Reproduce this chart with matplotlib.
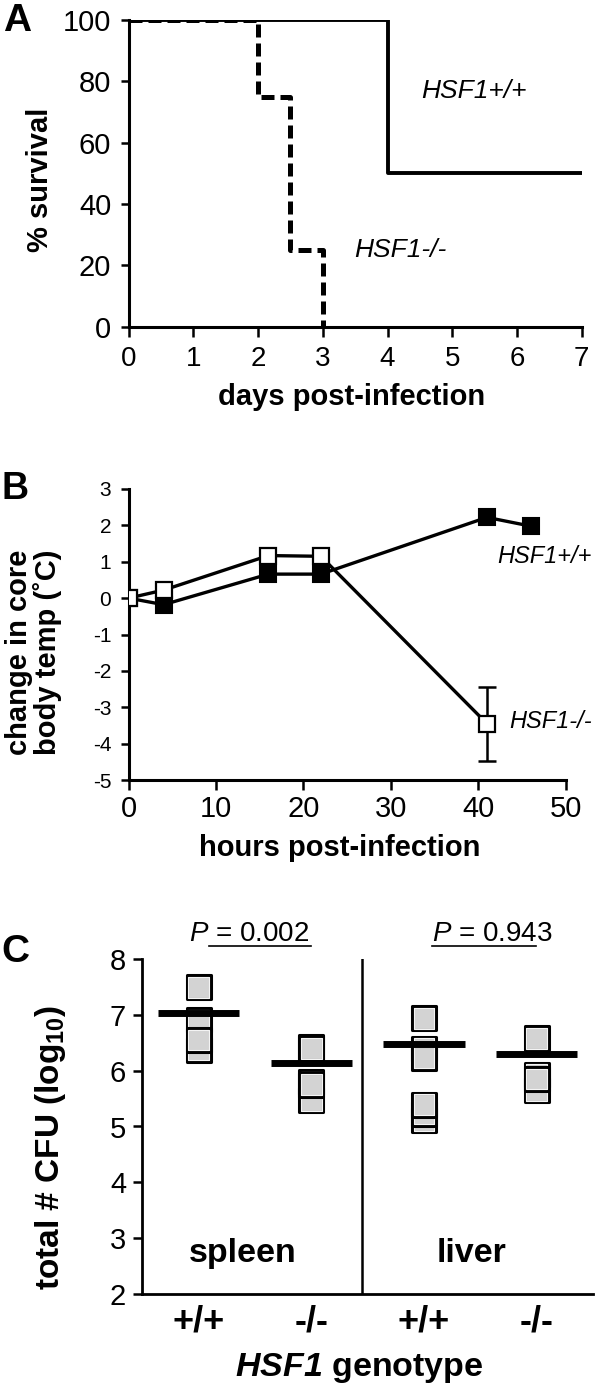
import matplotlib
matplotlib.use("Agg")
import matplotlib.pyplot as plt

plt.rcParams['font.family'] = ['Liberation Sans', 'DejaVu Sans']
plt.rcParams['axes.unicode_minus'] = False
plt.rcParams['mathtext.fontset'] = 'custom'
plt.rcParams['mathtext.rm'] = 'Liberation Sans'
plt.rcParams['mathtext.it'] = 'Liberation Sans:italic'
plt.rcParams['mathtext.bf'] = 'Liberation Sans:bold'
plt.rcParams['mathtext.bfit'] = 'Liberation Sans:italic:bold'

# A: survival
days_wt = [0, 4, 7]
surv_wt = [100, 50, 50]
days_ko = [0, 2, 2.5, 3]
surv_ko = [100, 75, 25, 0]

# B: core body temperature
hours_wt = [0, 4, 16, 22, 41, 46]
temp_wt = [0, -0.18, 0.66, 0.66, 2.22, 1.98]
hours_ko = [0, 4, 16, 22, 41]
temp_ko = [0, 0.22, 1.17, 1.15, -3.45]
err_ko = [0, 0, 0, 0, 1.02]

# C: CFU per mouse (log10)
geno_labels = ['+/+', '-/-', '+/+', '-/-']
cfu_groups = [
    [7.49, 6.90, 6.37, 6.55],              # spleen +/+
    [6.42, 6.40, 5.47, 5.79, 5.75],        # spleen -/-
    [6.94, 6.39, 6.23, 5.11, 5.23, 5.39],  # liver +/+
    [6.58, 5.65, 5.93, 5.85],              # liver -/-
]
cfu_means = [7.03, 6.13, 6.48, 6.29]
p_values = ['0.002', '0.943']

W, H = 600, 1394
fig = plt.figure(figsize=(W / 100, H / 100), dpi=100)


def rect(x0, y0, x1, y1):
    # pixel box -> figure fraction
    return [x0 / W, 1 - y1 / H, (x1 - x0) / W, (y1 - y0) / H]


def style(ax, lw=2.2):
    for s in ['top', 'right']:
        ax.spines[s].set_visible(False)
    for s in ['left', 'bottom']:
        ax.spines[s].set_linewidth(lw)


# ---- panel A ----
axA = fig.add_axes(rect(128.6, 20, 581.7, 326.7))
style(axA)
axA.step(days_wt, surv_wt, where='post', color='black', lw=2.8)
axA.step(days_ko, surv_ko, where='post', color='black', lw=3.6,
         dashes=(2.6, 1.2))
axA.set_xlim(0, 7)
axA.set_ylim(0, 100)
axA.set_xticks(range(8))
axA.set_yticks(range(0, 101, 20))
axA.tick_params(axis='y', labelsize=21, length=5.5, width=1.8, pad=7)
axA.tick_params(axis='x', labelsize=20, length=7, width=1.8, pad=7)
axA.text(4.52, 77, 'HSF1+/+', style='italic', fontsize=19, va='center')
axA.text(3.48, 25, 'HSF1-/-', style='italic', fontsize=19, va='center')

# ---- panel B ----
axB = fig.add_axes(rect(128.6, 489, 565.6, 780))
style(axB)
axB.plot(hours_wt, temp_wt, color='black', lw=2.4, marker='s', ms=12,
         mfc='black', mec='black', mew=1.5, zorder=3)
axB.plot(hours_ko, temp_ko, color='black', lw=2.4, marker='s', ms=12,
         mfc='white', mec='black', mew=1.6, zorder=4)
axB.errorbar(hours_ko[-1:], temp_ko[-1:], yerr=err_ko[-1:], fmt='none',
             ecolor='black', elinewidth=1.8, capsize=6.5, capthick=1.8,
             zorder=2)
axB.set_xlim(0, 50)
axB.set_ylim(-5, 3)
axB.set_xticks(range(0, 51, 10))
axB.set_yticks(range(-5, 4))
axB.tick_params(axis='y', labelsize=15, length=5.5, width=1.8, pad=7)
axB.tick_params(axis='x', labelsize=21, length=7, width=1.8, pad=4)
axB.text(42.2, 1.14, 'HSF1+/+', style='italic', fontsize=17, va='center',
         clip_on=False)
axB.text(43.5, -3.40, 'HSF1-/-', style='italic', fontsize=17, va='center',
         clip_on=False)

# ---- panel C ----
axC = fig.add_axes(rect(142.4, 959, 593, 1294))
style(axC, lw=2.0)
xpos = [1, 2, 3, 4]
for x, vals in zip(xpos, cfu_groups):
    for v in vals:
        axC.scatter([x], [v], marker='s', s=298, facecolor='#d3d3d3',
                    edgecolor='black', linewidth=2.2, zorder=3)
        axC.scatter([x], [v], marker='s', s=225, facecolor='none',
                    edgecolor='#f4f4f4', linewidth=0.8, zorder=3)
axC.hlines(cfu_means, [x - 0.36 for x in xpos], [x + 0.36 for x in xpos],
           color='black', lw=5, zorder=4)
axC.axvline(2.45, color='black', lw=1.8)
axC.set_xlim(0.5, 4.5)
axC.set_ylim(2, 8)
axC.set_yticks(range(2, 9))
axC.set_xticks(xpos)
axC.set_xticklabels(geno_labels, fontweight='bold')
axC.tick_params(axis='y', labelsize=21, length=6.7, width=1.8, pad=5)
axC.tick_params(axis='x', labelsize=26, length=0, pad=7.5)
axC.text(1.39, 2.58, 'spleen', fontsize=24.5, fontweight='bold',
         ha='center', va='baseline')
axC.text(3.42, 2.58, 'liver', fontsize=24.5, fontweight='bold',
         ha='center', va='baseline')
for tx, (u0, u1), p in zip([0.91, 3.07], [(1.09, 2.0), (3.07, 3.99)], p_values):
    axC.text(tx, 8.33, '$P$ = ' + p, fontsize=20, ha='left', va='baseline',
             clip_on=False)
    axC.plot([u0, u1], [8.23, 8.23], color='black', lw=1.2, clip_on=False)

# ---- labels ----
def ftext(px, py, s, **kw):
    fig.text(px / W, 1 - py / H, s, ha='center', va='center', **kw)


ftext(17, 21, 'A', fontsize=28, fontweight='bold')
ftext(15, 489, 'B', fontsize=27, fontweight='bold')
ftext(15, 952, 'C', fontsize=28, fontweight='bold')

ftext(40, 180, '% survival', fontsize=21, fontweight='bold', rotation=90)
ftext(352, 397, 'days post-infection', fontsize=21, fontweight='bold')

ftext(34, 652, 'change in core\nbody temp (˚C)', fontsize=21,
      fontweight='bold', rotation=90, linespacing=1.0)
ftext(340, 848, 'hours post-infection', fontsize=21, fontweight='bold')

ftext(50, 1147, r'total # CFU (log$_{\mathbf{10}}$)', fontsize=24,
      fontweight='bold', rotation=90)
ftext(359, 1368, r'$\mathbfit{HSF1}$ genotype', fontsize=24.5,
      fontweight='bold')

fig.savefig('out.png', dpi=100)
